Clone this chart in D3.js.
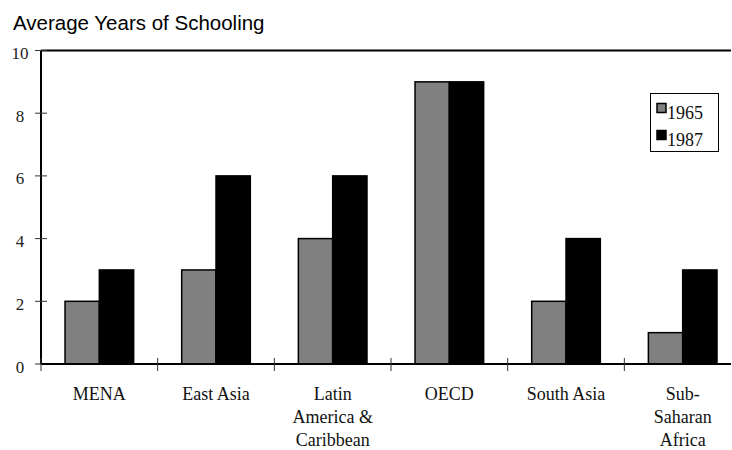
<!DOCTYPE html>
<html>
<head>
<meta charset="utf-8">
<script src="https://cdn.jsdelivr.net/npm/d3@7"></script>
<style>
  html, body { margin: 0; padding: 0; background: #fff; }
  svg { display: block; }
</style>
</head>
<body>
<svg id="chart" width="732" height="450"></svg>
<script>
// Average years of schooling by region, 1965 vs 1987
const categories = ["MENA", "East Asia", "Latin America & Caribbean", "OECD", "South Asia", "Sub-Saharan Africa"];
const categoryLines = [["MENA"], ["East Asia"], ["Latin", "America &", "Caribbean"], ["OECD"], ["South Asia"], ["Sub-", "Saharan", "Africa"]];
const seriesNames = ["1965", "1987"];
const values1965 = [2, 3, 4, 9, 2, 1];
const values1987 = [3, 6, 6, 9, 4, 3];
const yTicks = [0, 2, 4, 6, 8, 10];
const title = "Average Years of Schooling";

const seriesValues = [values1965, values1987];
const colors = ["#808080", "#000000"];
const serif = "'Liberation Serif', 'Times New Roman', serif";
const sans = "'Liberation Sans', Arial, sans-serif";

const svg = d3.select("#chart");

const plotLeft = 41, bandW = 116.67, plotTop = 50.5, plotBottom = 364;
const x0 = d3.scaleBand().domain(categories).range([plotLeft, plotLeft + bandW * categories.length]).padding(0);
const x1 = d3.scaleBand().domain(seriesNames).range([0, x0.bandwidth()]).paddingInner(0).paddingOuter(0.7);
const y = d3.scaleLinear().domain([0, 10]).range([plotBottom, plotTop]);

// title
svg.append("text")
  .attr("x", 13).attr("y", 30)
  .attr("font-family", sans).attr("font-size", 20.5)
  .text(title);

// top frame line
svg.append("line")
  .attr("x1", plotLeft).attr("x2", 731)
  .attr("y1", y(10)).attr("y2", y(10))
  .attr("stroke", "#000").attr("stroke-width", 2);

// bars
const groups = svg.append("g").selectAll("g")
  .data(categories)
  .join("g")
  .attr("transform", d => `translate(${x0(d)},0)`);

groups.selectAll("rect")
  .data((d, i) => seriesNames.map((s, j) => ({ s, v: seriesValues[j][i], c: colors[j] })))
  .join("rect")
  .attr("x", d => x1(d.s))
  .attr("y", d => y(d.v))
  .attr("width", x1.bandwidth())
  .attr("height", d => y(0) - y(d.v))
  .attr("fill", d => d.c)
  .attr("stroke", "#000")
  .attr("stroke-width", 1.5);

// y axis
const yAxis = svg.append("g");
yAxis.append("line")
  .attr("x1", plotLeft).attr("x2", plotLeft)
  .attr("y1", y(0)).attr("y2", y(10))
  .attr("stroke", "#000").attr("stroke-width", 2);
yAxis.selectAll("line.tick")
  .data(yTicks)
  .join("line")
  .attr("class", "tick")
  .attr("x1", 35).attr("x2", 47)
  .attr("y1", d => y(d)).attr("y2", d => y(d))
  .attr("stroke", "#333").attr("stroke-width", 1);
yAxis.selectAll("text")
  .data(yTicks)
  .join("text")
  .attr("x", 20).attr("y", d => y(d))
  .attr("dy", "0.5em")
  .attr("text-anchor", "middle")
  .attr("font-family", serif).attr("font-size", 17)
  .attr("fill", "#222")
  .text(d => d);

// x axis
const xAxis = svg.append("g");
xAxis.append("line")
  .attr("x1", plotLeft).attr("x2", 731)
  .attr("y1", y(0)).attr("y2", y(0))
  .attr("stroke", "#000").attr("stroke-width", 2);
xAxis.selectAll("line.tick")
  .data(categories)
  .join("line")
  .attr("class", "tick")
  .attr("x1", d => x0(d)).attr("x2", d => x0(d))
  .attr("y1", y(0) - 6).attr("y2", y(0) + 7)
  .attr("stroke", "#333").attr("stroke-width", 1);
const labels = xAxis.selectAll("text")
  .data(categories)
  .join("text")
  .attr("text-anchor", "middle")
  .attr("font-family", serif).attr("font-size", 18)
  .attr("fill", "#111");
labels.selectAll("tspan")
  .data((d, i) => categoryLines[i].map(line => ({ line, cx: x0(d) + x0.bandwidth() / 2 })))
  .join("tspan")
  .attr("x", d => d.cx)
  .attr("y", (d, k) => 400 + k * 23)
  .text(d => d.line);

// legend
const legend = svg.append("g");
legend.append("rect")
  .attr("x", 650.5).attr("y", 93.5)
  .attr("width", 68).attr("height", 58)
  .attr("fill", "#fff").attr("stroke", "#000").attr("stroke-width", 1);
const items = legend.selectAll("g")
  .data(seriesNames)
  .join("g")
  .attr("transform", (d, i) => `translate(0,${i * 27})`);
items.append("rect")
  .attr("x", 657).attr("y", 103.5)
  .attr("width", 9).attr("height", 9)
  .attr("fill", (d, i) => colors[i])
  .attr("stroke", "#000").attr("stroke-width", 1.5);
items.append("text")
  .attr("x", 667).attr("y", 118.5)
  .attr("font-family", serif).attr("font-size", 18)
  .attr("fill", "#111")
  .text(d => d);
</script>
</body>
</html>
